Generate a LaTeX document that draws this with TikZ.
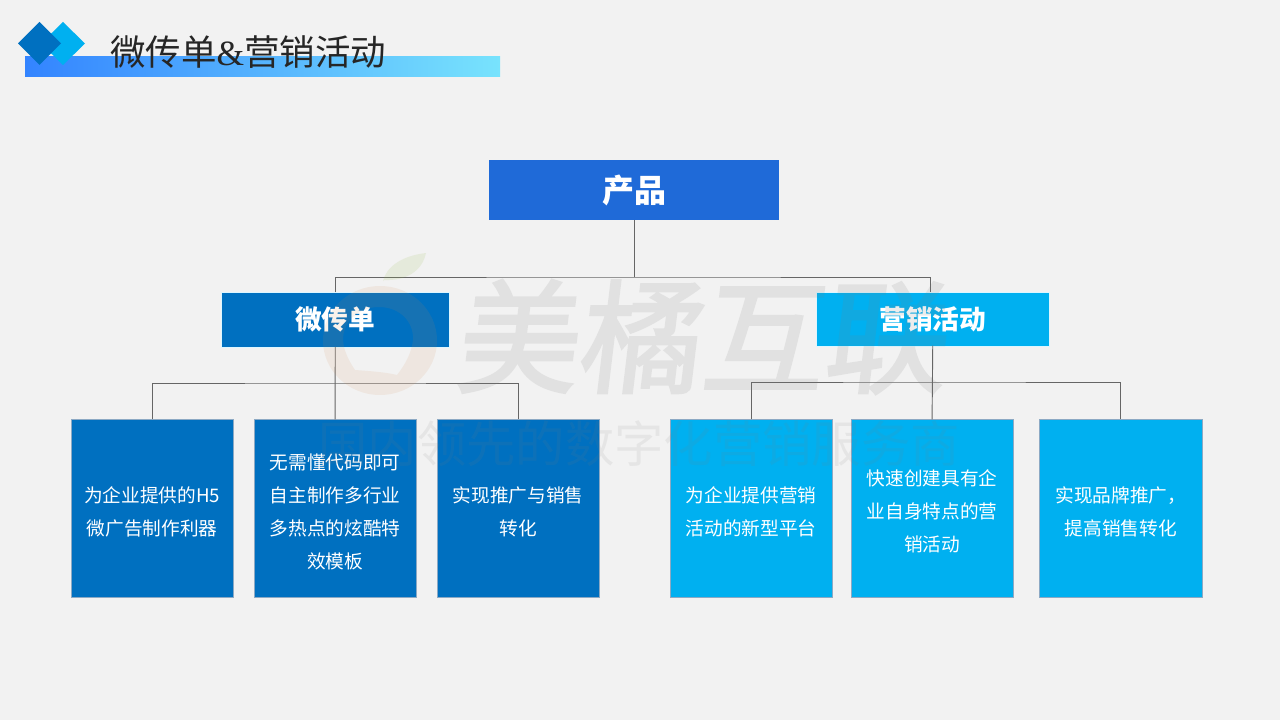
\documentclass[tikz,border=0pt]{standalone}
\usepackage{fontspec}
\setmainfont{Noto Sans CJK SC}
\newfontfamily\latinserif{Liberation Serif}
\newfontfamily\wmfont[FakeBold=2]{Noto Sans CJK SC}
\usetikzlibrary{calc}
\definecolor{pagebg}{HTML}{F2F2F2}
\definecolor{deepblue}{HTML}{0070C0}
\definecolor{skyblue}{HTML}{00B0F0}
\definecolor{rootblue}{HTML}{1F6AD8}
\definecolor{linegray}{HTML}{666666}
\definecolor{leafedge}{HTML}{8CA9C4}
\definecolor{HdL}{HTML}{3384FF}
\definecolor{HdR}{HTML}{78E3FD}
\definecolor{glow}{HTML}{DDF6FF}
\definecolor{wmgray}{HTML}{7F7F7F}
\definecolor{wmring}{HTML}{D08A50}
\definecolor{wmleaf}{HTML}{9ABB50}
\tikzset{
  x=0.75pt,y=-0.75pt,
  boxnode/.style={rectangle,inner sep=0pt,outer sep=0pt,anchor=north west,text=white,align=center},
  leafnode/.style={boxnode,minimum width=121.6pt,minimum height=133.7pt,draw=leafedge,line width=.6pt,text width=108pt,font=\fontsize{14}{24.75}\selectfont,execute at begin node=\rule{0pt}{16.8pt}},
  headnode/.style={boxnode,draw=glow,line width=.3pt,font=\fontsize{20}{24}\selectfont\bfseries},
  conn/.style={draw=linegray,line width=.7pt},
  wmark/.style={inner sep=0pt,outer sep=0pt,text=wmgray}
}
\begin{document}
\begin{tikzpicture}
\useasboundingbox (0,0) rectangle (1280,720);
\fill[pagebg] (0,0) rectangle (1280,720);
% header
\shade[left color=HdL,right color=HdR] (25,57) rectangle (500,77);
\fill[skyblue] (63,22) -- (85,43.5) -- (63,65) -- (41,43.5) -- cycle;
\fill[deepblue] (39.5,22) -- (61,43.5) -- (39.5,65) -- (18,43.5) -- cycle;
\node[inner sep=0pt,anchor=west,text=black!85] (title) at (110,52) {\fontsize{26.6}{32}\selectfont 微传单{\latinserif\&}营销活动};
% connectors
\coordinate (busroot) at (634,277);
\coordinate (busleft) at (335.4,383);
\coordinate (busright) at (933,382);
% nodes
\node[boxnode,fill=rootblue,minimum width=217.5pt,minimum height=45pt,font=\fontsize{24}{28}\selectfont\bfseries] (root) at (489,160) {产品};
\node[headnode,fill=deepblue,minimum width=171.4pt,minimum height=40.8pt] (left) at (221,292.4) {微传单};
\node[headnode,fill=skyblue,minimum width=175.1pt,minimum height=40pt] (right) at (816,292.4) {营销活动};
\node[leafnode,fill=deepblue] (a) at (71,419.4) {为企业提供的H5\\微广告制作利器};
\node[leafnode,fill=deepblue] (b) at (254,419.4) {无需懂代码即可\\自主制作多行业\\多热点的炫酷特\\效模板};
\node[leafnode,fill=deepblue] (c) at (437,419.4) {实现推广与销售\\转化};
\node[leafnode,fill=skyblue] (d) at (670,419.4) {为企业提供营销\\活动的新型平台};
\node[leafnode,fill=skyblue] (e) at (851,419.4) {快速创建具有企\\业自身特点的营\\销活动};
\node[leafnode,fill=skyblue] (f) at (1039.8,419.4) {实现品牌推广，\\提高销售转化};
\draw[conn] (root.south) -- (busroot);
\draw[conn] (left.north) |- (busroot) -| ($(right.north)+(-2.5,0)$);
\draw[conn] (left.south) -- (b.north);
\draw[conn] (a.north) |- (busleft) -| (c.north);
\draw[conn] (right.south) -- (e.north);
\draw[conn] (d.north) |- (busright) -| (f.north);
% watermark
\fill[wmring,opacity=.11,even odd rule] (380,340.5) ellipse (57 and 54.5)
  (379,307) .. controls (400,307) and (414,322) .. (413,340) .. controls (412,352) and (405,365) .. (397,375) .. controls (385,372) and (368,371) .. (355,370) .. controls (347,358) and (343,348) .. (343,338) .. controls (344,320) and (360,307) .. (379,307) -- cycle;
\fill[wmleaf,opacity=.14] (426,253) .. controls (400,256) and (386,268) .. (383,281) -- (384,280) .. controls (405,281) and (422,272) .. (426,253) -- cycle;
\begin{scope}[transparency group,opacity=.14]
\node[wmark,xslant=.12,transform shape] (wm1) at (705,337) {\wmfont\fontsize{92}{110}\selectfont 美橘互联};
\end{scope}
\begin{scope}[transparency group,opacity=.11]
\node[wmark] (wm2) at (639,444) {\fontsize{37}{44}\selectfont 国内领先的数字化营销服务商};
\end{scope}
\end{tikzpicture}
\end{document}
